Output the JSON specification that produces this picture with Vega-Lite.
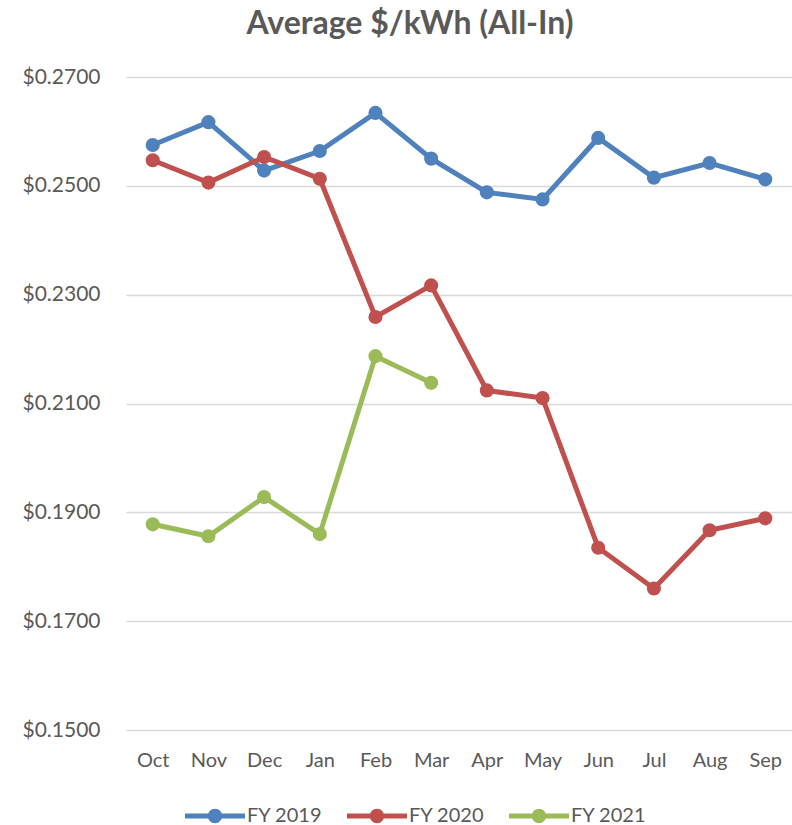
{
  "$schema": "https://vega.github.io/schema/vega-lite/v6.json",
  "width": 666,
  "height": 653,
  "autosize": {"type": "none"},
  "padding": {"left": 126, "top": 77, "right": 0, "bottom": 95},
  "background": "white",
  "title": {
    "text": "Average $/kWh (All-In)",
    "font": "Lato",
    "fontSize": 32,
    "fontWeight": "bold",
    "color": "#595959",
    "anchor": "middle",
    "dx": -49,
    "offset": 25
  },
  "config": {
    "view": {"stroke": null},
    "font": "Lato"
  },
  "data": {
    "values": [
      {"month": "Oct", "series": "FY 2019", "value": 0.2575},
      {"month": "Nov", "series": "FY 2019", "value": 0.2617},
      {"month": "Dec", "series": "FY 2019", "value": 0.2528},
      {"month": "Jan", "series": "FY 2019", "value": 0.2564},
      {"month": "Feb", "series": "FY 2019", "value": 0.2634},
      {"month": "Mar", "series": "FY 2019", "value": 0.2550},
      {"month": "Apr", "series": "FY 2019", "value": 0.2488},
      {"month": "May", "series": "FY 2019", "value": 0.2475},
      {"month": "Jun", "series": "FY 2019", "value": 0.2588},
      {"month": "Jul", "series": "FY 2019", "value": 0.2515},
      {"month": "Aug", "series": "FY 2019", "value": 0.2542},
      {"month": "Sep", "series": "FY 2019", "value": 0.2512},
      {"month": "Oct", "series": "FY 2020", "value": 0.2547},
      {"month": "Nov", "series": "FY 2020", "value": 0.2506},
      {"month": "Dec", "series": "FY 2020", "value": 0.2553},
      {"month": "Jan", "series": "FY 2020", "value": 0.2513},
      {"month": "Feb", "series": "FY 2020", "value": 0.2259},
      {"month": "Mar", "series": "FY 2020", "value": 0.2317},
      {"month": "Apr", "series": "FY 2020", "value": 0.2124},
      {"month": "May", "series": "FY 2020", "value": 0.2110},
      {"month": "Jun", "series": "FY 2020", "value": 0.1835},
      {"month": "Jul", "series": "FY 2020", "value": 0.1760},
      {"month": "Aug", "series": "FY 2020", "value": 0.1867},
      {"month": "Sep", "series": "FY 2020", "value": 0.1889},
      {"month": "Oct", "series": "FY 2021", "value": 0.1878},
      {"month": "Nov", "series": "FY 2021", "value": 0.1856},
      {"month": "Dec", "series": "FY 2021", "value": 0.1928},
      {"month": "Jan", "series": "FY 2021", "value": 0.1860},
      {"month": "Feb", "series": "FY 2021", "value": 0.2187},
      {"month": "Mar", "series": "FY 2021", "value": 0.2138}
    ]
  },
  "encoding": {
    "x": {
      "field": "month",
      "type": "ordinal",
      "sort": ["Oct", "Nov", "Dec", "Jan", "Feb", "Mar", "Apr", "May", "Jun", "Jul", "Aug", "Sep"],
      "scale": {"type": "point", "padding": 0.48},
      "axis": {
        "title": null,
        "labelAngle": 0,
        "labelFontSize": 20,
        "labelColor": "#595959",
        "labelPadding": 20,
        "domain": false,
        "ticks": false,
        "grid": false
      }
    },
    "y": {
      "field": "value",
      "type": "quantitative",
      "scale": {"domain": [0.15, 0.27], "nice": false, "zero": false},
      "axis": {
        "title": null,
        "values": [0.15, 0.17, 0.19, 0.21, 0.23, 0.25, 0.27],
        "format": "$.4f",
        "labelFontSize": 21,
        "labelColor": "#595959",
        "labelPadding": 26,
        "domain": false,
        "ticks": false,
        "gridColor": "#D9D9D9",
        "gridWidth": 1.5
      }
    },
    "color": {
      "field": "series",
      "type": "nominal",
      "scale": {"domain": ["FY 2019", "FY 2020", "FY 2021"], "range": ["#4F81BD", "#C0504D", "#9BBB59"]},
      "legend": {
        "title": null,
        "orient": "none",
        "direction": "horizontal",
        "legendX": 59,
        "legendY": 709,
        "symbolType": "M-1,-0.083 L1,-0.083 L1,0.083 L-1,0.083 Z M-0.24,0 A0.24,0.24 0 1,1 0.24,0 A0.24,0.24 0 1,1 -0.24,0 Z",
        "symbolSize": 3600,
        "symbolStrokeWidth": 0,
        "labelFontSize": 20,
        "labelColor": "#595959",
        "labelOffset": 2,
        "columnPadding": 24,
        "gridAlign": "all"
      }
    }
  },
  "layer": [
    {"mark": {"type": "line", "strokeWidth": 5}},
    {"mark": {"type": "point", "filled": true, "size": 200, "opacity": 1}}
  ]
}
